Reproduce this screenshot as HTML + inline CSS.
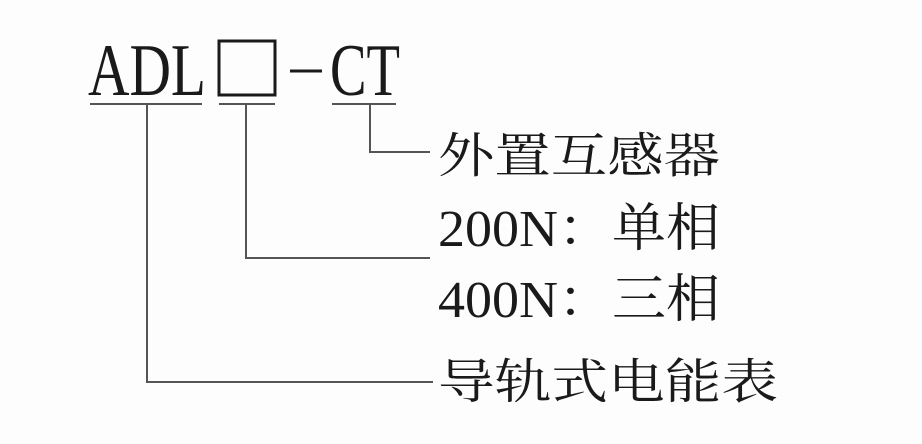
<!DOCTYPE html>
<html><head><meta charset="utf-8"><style>
html,body{margin:0;padding:0;background:#fdfdfe;}
svg{display:block}
text{font-family:"Liberation Serif","Noto Serif CJK SC",serif;fill:#1a1a1a;}
</style></head><body>
<svg width="922" height="444" viewBox="0 0 922 444">
<rect width="922" height="444" fill="#fdfdfe"/>
<text x="88" y="95" font-size="74" textLength="118" lengthAdjust="spacingAndGlyphs">ADL</text>
<rect x="219" y="41" width="56" height="54" fill="none" stroke="#1a1a1a" stroke-width="3"/>
<line x1="290" y1="71" x2="322" y2="71" stroke="#1a1a1a" stroke-width="3"/>
<text x="330" y="95" font-size="74" textLength="70" lengthAdjust="spacingAndGlyphs">CT</text>
<g stroke="#555" stroke-width="2" fill="none">
<line x1="90" y1="104" x2="202" y2="104"/>
<line x1="219" y1="104" x2="275" y2="104"/>
<line x1="332" y1="104" x2="396" y2="104"/>
<polyline points="370,104 370,152 430,152"/>
<polyline points="246,104 246,258 430,258"/>
<polyline points="147,104 147,382 433,382"/>
</g>
<text x="438" y="172" font-size="48" textLength="282" lengthAdjust="spacingAndGlyphs">外置互感器</text>
<text x="438" y="246" font-size="52" textLength="282" lengthAdjust="spacingAndGlyphs">200N：单相</text>
<text x="438" y="317" font-size="52" textLength="282" lengthAdjust="spacingAndGlyphs">400N：三相</text>
<text x="438" y="398" font-size="48" textLength="340" lengthAdjust="spacingAndGlyphs">导轨式电能表</text>
</svg>
</body></html>
